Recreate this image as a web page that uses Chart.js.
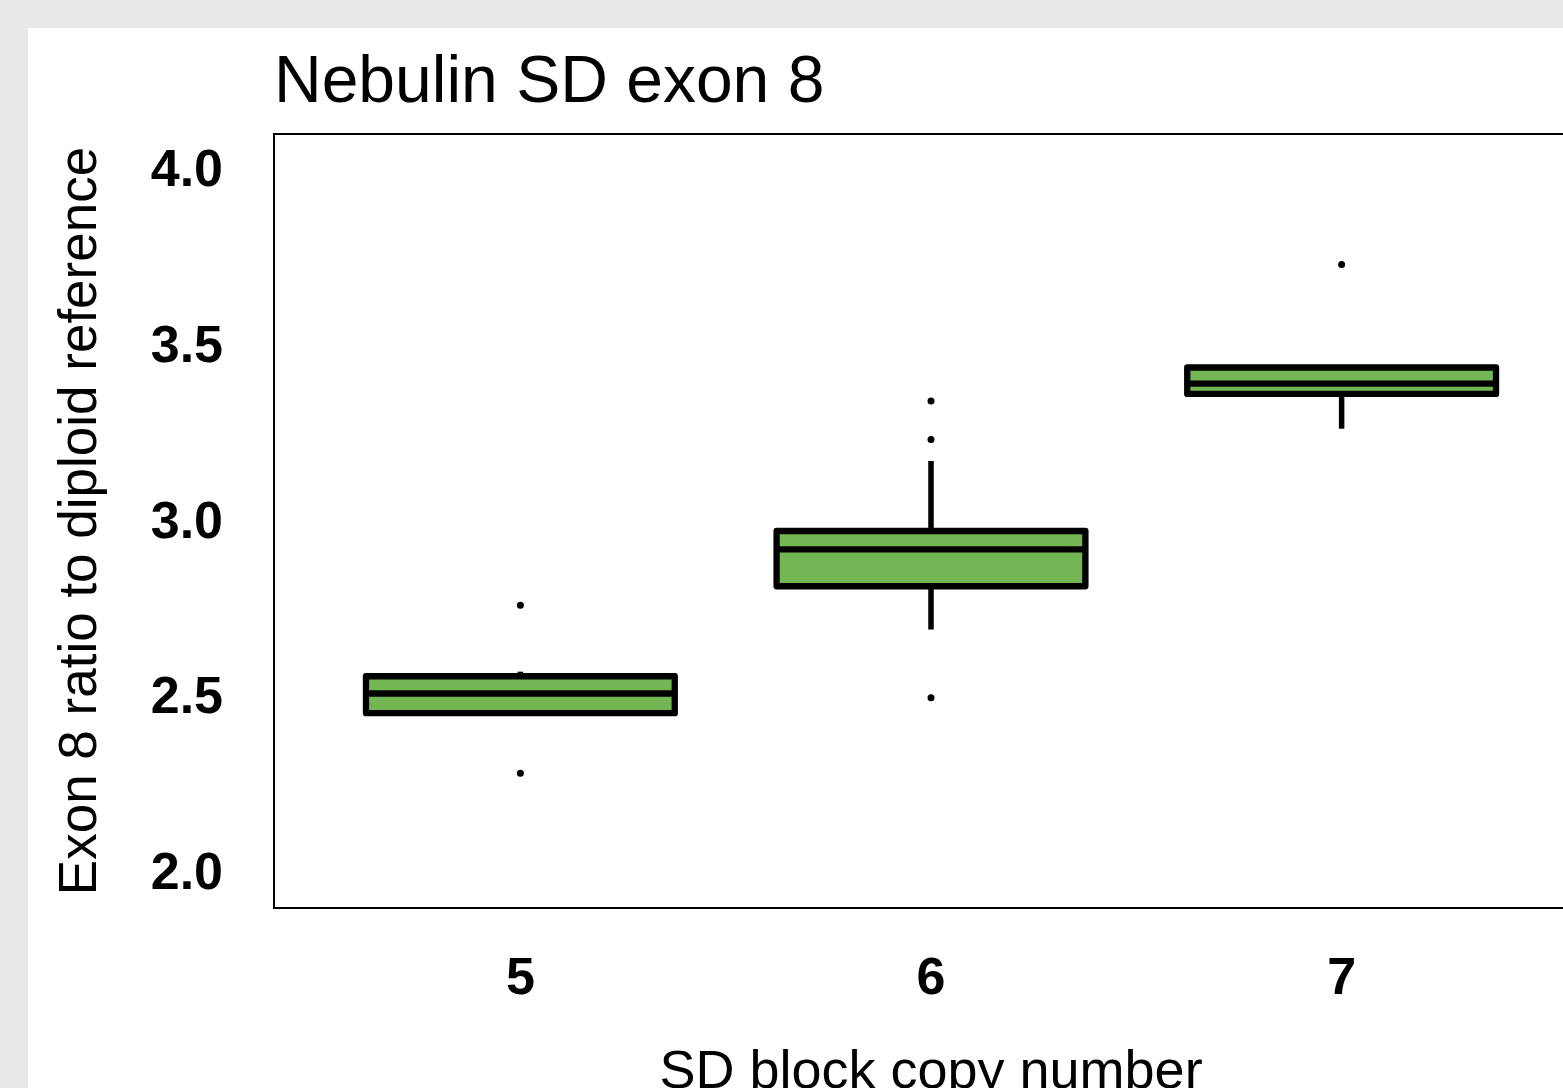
<!DOCTYPE html>
<html><head><meta charset="utf-8">
<script src="https://cdn.jsdelivr.net/npm/chart.js@4.4.0/dist/chart.umd.min.js"></script>
<style>
html,body{margin:0;padding:0;width:1563px;height:1088px;overflow:hidden;background:#e8e8e8;}
#panel{position:absolute;left:28px;top:28px;width:1600px;height:1110px;background:#fff;}
#wrap{position:absolute;left:0;top:0;width:1600px;height:1106px;}
</style></head><body>
<div id="panel"></div>
<div id="wrap"><canvas id="c" width="1600" height="1106"></canvas></div>
<script>
// ---- data ----
const categories = [5, 6, 7];
const xTickLabels = ['5', '6', '7'];
const q1 = [2.460, 2.821, 3.368];
const median = [2.516, 2.926, 3.397];
const q3 = [2.565, 2.978, 3.443];
const whiskerLow = [2.460, 2.698, 3.269];
const whiskerHigh = [2.578, 3.177, 3.443];
const outlierX = [5, 5, 6, 6, 6, 7];
const outlierY = [2.767, 2.289, 3.348, 3.238, 2.504, 3.736];
const yTickValues = [2.0, 2.5, 3.0, 3.5, 4.0];
const yTickLabels = ['2.0', '2.5', '3.0', '3.5', '4.0'];

Chart.defaults.font.family = "'Liberation Sans', Arial, Helvetica, sans-serif";
Chart.defaults.color = '#000';

const boxPlugin = {
  id: 'boxDecor',
  afterDatasetsDraw(chart) {
    const ctx = chart.ctx, ys = chart.scales.y, xs = chart.scales.x;
    const meta = chart.getDatasetMeta(0);
    ctx.save();
    ctx.strokeStyle = '#000';
    ctx.lineWidth = 5.5; ctx.lineCap = 'butt';
    categories.forEach((c, i) => {
      const x = xs.getPixelForValue(c);
      ctx.beginPath();
      ctx.moveTo(x, ys.getPixelForValue(q3[i])); ctx.lineTo(x, ys.getPixelForValue(whiskerHigh[i]));
      ctx.moveTo(x, ys.getPixelForValue(q1[i])); ctx.lineTo(x, ys.getPixelForValue(whiskerLow[i]));
      ctx.stroke();
    });
    ctx.lineWidth = 6.3; ctx.lineJoin = 'round';
    meta.data.forEach((bar, i) => {
      const p = bar.getProps(['x', 'y', 'base', 'width'], true);
      const l = p.x - p.width / 2, r = p.x + p.width / 2;
      ctx.strokeRect(l, Math.min(p.y, p.base), p.width, Math.abs(p.base - p.y));
      const ym = ys.getPixelForValue(median[i]);
      ctx.beginPath(); ctx.moveTo(l, ym); ctx.lineTo(r, ym); ctx.stroke();
    });
    const a = chart.chartArea;
    ctx.lineWidth = 2; ctx.lineJoin = 'miter';
    ctx.strokeRect(a.left, a.top, a.right - a.left, a.bottom - a.top);
    ctx.restore();
  }
};

new Chart(document.getElementById('c'), {
  type: 'bar',
  data: {
    datasets: [
      {
        type: 'bar',
        data: categories.map((c, i) => ({ x: c, y: [q1[i], q3[i]] })),
        backgroundColor: '#74B654',
        borderWidth: 0,
        barPercentage: 0.752,
        categoryPercentage: 1
      },
      {
        type: 'scatter',
        data: outlierX.map((x, i) => ({ x: x, y: outlierY[i] })),
        backgroundColor: '#000',
        borderWidth: 0,
        pointRadius: 3.5,
        showLine: false
      }
    ]
  },
  options: {
    responsive: false,
    animation: false,
    devicePixelRatio: 1,
    layout: { padding: { left: 0, top: 0, right: 12, bottom: 0 } },
    plugins: {
      legend: { display: false },
      tooltip: { enabled: false },
      title: {
        display: true,
        text: 'Nebulin SD exon 8',
        align: 'start',
        fullSize: false,
        color: '#000',
        font: { size: 66, weight: 'normal' },
        padding: { top: 44, bottom: 10.8 }
      }
    },
    scales: {
      x: {
        type: 'linear',
        min: 4.4, max: 7.6,
        offset: false,
        grid: { display: false, drawTicks: false, offset: false },
        border: { display: false },
        afterBuildTicks: s => { s.ticks = categories.map(v => ({ value: v })); },
        ticks: {
          callback: (v, i) => xTickLabels[i],
          font: { size: 52, weight: 'bold' },
          color: '#000',
          padding: 40,
          maxRotation: 0,
          autoSkip: false
        },
        title: {
          display: true,
          text: 'SD block copy number',
          color: '#000',
          font: { size: 54, weight: 'normal' },
          padding: { top: 0, bottom: 0 }
        },
        afterFit: s => { s.height = 198; }
      },
      y: {
        type: 'linear',
        min: 1.906, max: 4.107,
        grid: { display: false, drawTicks: false },
        border: { display: false },
        afterBuildTicks: s => { s.ticks = yTickValues.map(v => ({ value: v })); },
        ticks: {
          callback: (v, i) => yTickLabels[i],
          font: { size: 52, weight: 'bold' },
          color: '#000',
          padding: 51,
          autoSkip: false
        },
        title: {
          display: true,
          text: 'Exon 8 ratio to diploid reference',
          color: '#000',
          font: { size: 53, weight: 'normal' },
          padding: { top: 50, bottom: 0 }
        },
        afterFit: s => { s.width = 274; }
      }
    }
  },
  plugins: [boxPlugin]
});
</script>
</body></html>
